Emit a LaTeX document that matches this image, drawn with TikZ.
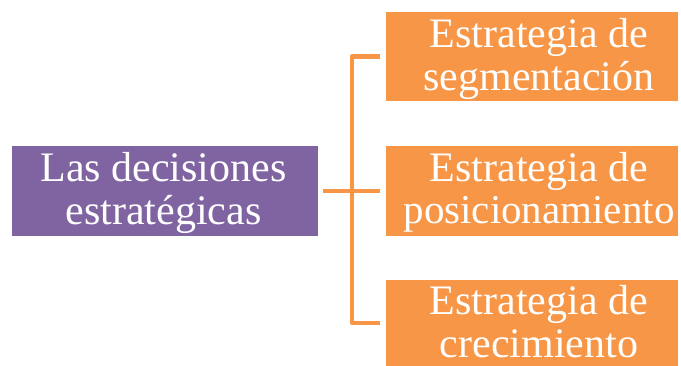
\documentclass[tikz,border=0pt]{standalone}
\usepackage{fontspec}
\setmainfont{Liberation Serif}
\definecolor{boxpurple}{HTML}{8064A2}
\definecolor{boxorange}{HTML}{F79646}
\begin{document}
\begin{tikzpicture}[x=1pt,y=-1pt,
  pbox/.style={fill=boxpurple, draw=none, inner sep=0pt, rectangle},
  obox/.style={fill=boxorange, draw=none, inner sep=0pt, rectangle},
  boxtext/.style={text=white, align=center, inner sep=0pt, font=\fontsize{42}{42.5}\selectfont},
  link/.style={draw=boxorange, line width=4.5pt, line join=round}]
\useasboundingbox (0,0) rectangle (681,365);
\begin{scope}
\clip (0,0) rectangle (681,365);
\node[pbox, minimum width=306pt, minimum height=90pt] (p) at (165,191) {};
\node[obox, minimum width=292pt, minimum height=89pt] (o1) at (532,56.5) {};
\node[obox, minimum width=292pt, minimum height=90pt] (o2) at (532,191) {};
\node[obox, minimum width=292pt, minimum height=86pt] (o3) at (532,323) {};
\node[boxtext] (tp) at ([xshift=-1.5pt,yshift=-3.5pt]p.center) {\strut Las decisiones\\estratégicas\strut};
\node[boxtext] (t1) at ([xshift=7pt,yshift=-4pt]o1.center) {\strut Estrategia de\\segmentación\strut};
\node[boxtext] (t2) at ([xshift=7pt,yshift=-3pt]o2.center) {\strut Estrategia de\\{\fontsize{41}{42.5}\selectfont posicionamiento}\strut};
\node[boxtext] (t3) at ([xshift=7pt,yshift=1.6pt]o3.center) {\strut Estrategia de\\crecimiento};
\end{scope}
\coordinate (bx) at (352,191);
\draw[link] ([xshift=5pt]p.east) -- ([xshift=-6pt]o2.west);
\draw[link] ([xshift=-6pt]o1.west) -| (bx) |- ([xshift=-6pt]o3.west);
\end{tikzpicture}
\end{document}
